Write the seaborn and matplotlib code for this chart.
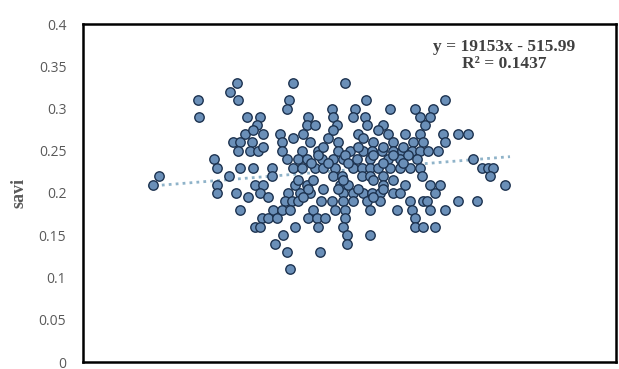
import matplotlib
matplotlib.use("Agg")
import matplotlib.pyplot as plt
import seaborn as sns
import pandas as pd

# x in arbitrary units (no x tick labels shown in the chart), y = savi
savi_x = [
    154, 210, 262,
    147,
    115, 155, 206, 283, 362,
    204, 249, 272, 307, 332, 350,
    116, 164, 177, 225, 250, 270, 282, 337, 347,
    174, 224, 232, 254, 284, 300, 342,
    162, 180, 197, 220, 275, 305, 322, 337, 360, 375, 385,
    150, 157, 169, 199, 227, 255, 290, 310, 330, 340, 362,
    155, 167, 175, 199, 219, 235, 255, 267, 280, 289, 299, 310, 319, 329, 337, 345, 355,
    131, 204, 215, 224, 239, 250, 260, 274, 287, 305, 317, 334, 390,
    134, 157, 170, 189, 210, 219, 232, 240, 252, 270, 279, 287, 295, 307, 317, 327, 337, 399, 405, 410,
    76, 146, 189, 250, 259, 279, 287, 300, 339, 407,
    70, 134, 172, 180, 212, 224, 257, 265, 300, 322, 347, 357, 422,
    134, 153, 177, 205, 217, 227, 260, 270, 280, 289, 297, 310, 317, 352,
    202, 209, 215, 238, 249, 260, 270, 284, 297, 327, 340, 344, 375, 394,
    157, 190, 199, 207, 230, 252, 262, 287, 314, 329, 347, 362,
    179, 185, 194, 225, 234, 242, 262, 332,
    172, 177, 212, 235, 260, 332, 340, 352,
    200, 264, 287,
    192, 264,
    204, 237,
    207,
    # overlapping points in the dense core
    235, 262, 290, 310, 325,
    228, 245, 265, 300, 320,
    215, 230, 260, 290, 310,
    225, 240, 255, 275, 300,
    165, 185, 220, 290,
    180, 240, 275, 300, 320,
    210, 245, 280,
    170, 250, 295,
]
savi_y = (
    [0.33] * 3 + [0.32] * 1 + [0.31] * 5 + [0.30] * 6 + [0.29] * 9 + [0.28] * 7
    + [0.27] * 11 + [0.26] * 11 + [0.25] * 17 + [0.24] * 13 + [0.23] * 20
    + [0.22] * 10 + [0.21] * 13 + [0.20] * 14 + [0.19] * 14 + [0.18] * 12
    + [0.17] * 8 + [0.16] * 8 + [0.15] * 3 + [0.14] * 2 + [0.13] * 2 + [0.11] * 1
    + [0.245] * 5 + [0.235] * 5 + [0.215] * 5 + [0.205] * 5 + [0.195] * 4
    + [0.255] * 5 + [0.265] * 3 + [0.275] * 3
)

trend_x = [65, 427]
trend_y = [0.208, 0.243]

y_ticks = [0, 0.05, 0.1, 0.15, 0.2, 0.25, 0.3, 0.35, 0.4]
y_tick_labels = ["0", "0.05", "0.1", "0.15", "0.2", "0.25", "0.3", "0.35", "0.4"]
equation_text = "y = 19153x - 515.99\nR² = 0.1437"
y_label = "savi"

df = pd.DataFrame({"x": savi_x, "savi": savi_y})
trend = pd.DataFrame({"x": trend_x, "savi": trend_y})

sns.set_theme(style="white")
plt.rcParams["font.family"] = ["Open Sans", "DejaVu Sans"]

fig = plt.figure(figsize=(6.19, 3.69), dpi=100)
ax = fig.add_axes([83 / 619, 1 - 362 / 369, 533 / 619, 338 / 369])

sns.lineplot(data=trend, x="x", y="savi", ax=ax, color="#8fb3c9",
             linestyle=(0, (1, 1.5)), linewidth=2.0, zorder=1)
sns.scatterplot(data=df, x="x", y="savi", ax=ax, s=46, color="#6a8fb8",
                edgecolor="#1d3350", linewidth=1.0, zorder=3)

ax.set_xlim(0, 533)
ax.set_ylim(0, 0.4)
ax.set_xticks([])
ax.set_yticks(y_ticks)
ax.set_yticklabels(y_tick_labels, color="#595959", fontsize=10)
ax.tick_params(axis="y", length=0, pad=12)
ax.set_xlabel("")
ax.set_ylabel(y_label, color="#595959", fontsize=13, fontweight="bold",
              family=["Liberation Serif"], labelpad=8)

for side, sp in ax.spines.items():
    sp.set_visible(True)
    sp.set_color("black")
    sp.set_linewidth(1.8)

ax.text(0.79, 0.955, equation_text, transform=ax.transAxes, ha="center", va="top",
        fontsize=12.5, fontweight="bold", color="#404040", family=["Liberation Serif"],
        linespacing=1.1, multialignment="center")

fig.savefig("out.png", dpi=100, facecolor="white")
